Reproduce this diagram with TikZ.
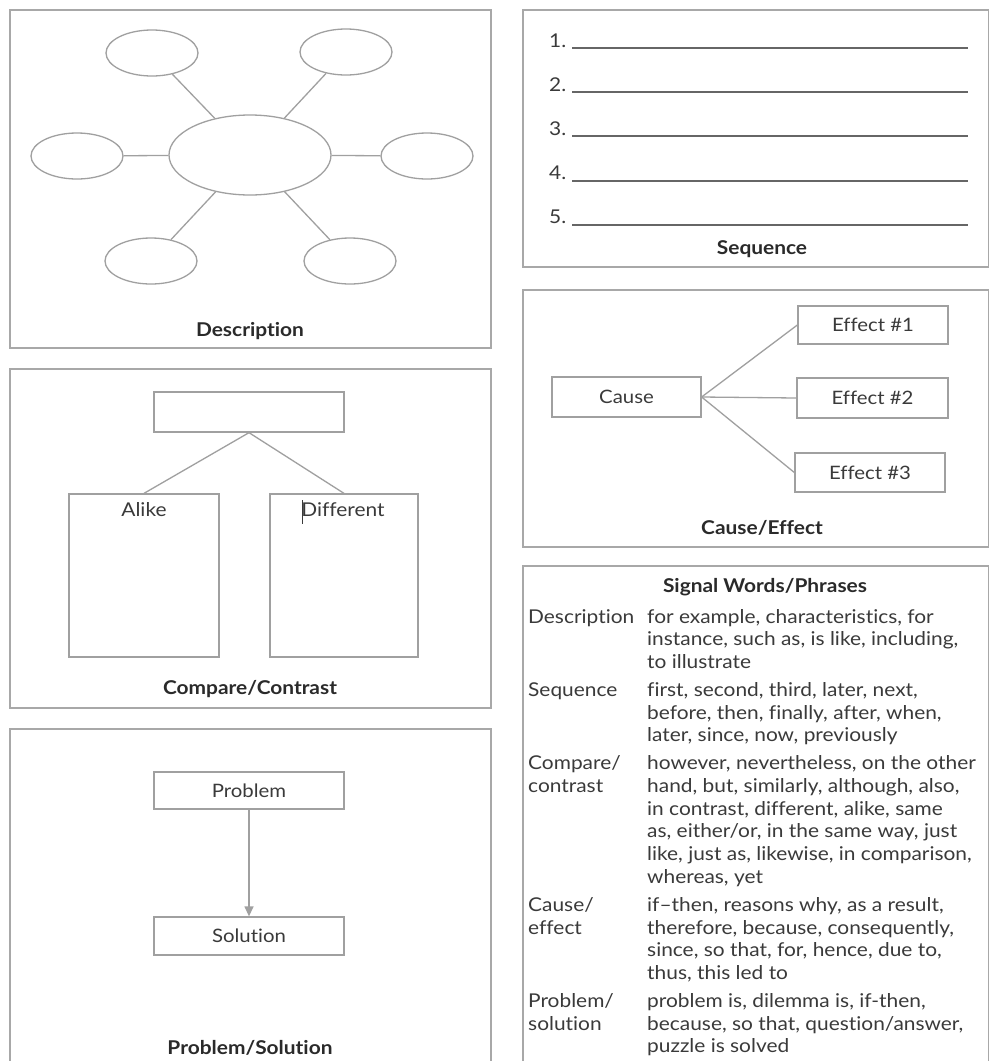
\documentclass[tikz,border=0pt]{standalone}
\usepackage{fontspec}
\setmainfont{Lato}[FakeStretch=1.1, Ligatures={TeX,NoCommon}]
\usetikzlibrary{shapes.geometric,arrows.meta}
\definecolor{frame}{HTML}{A8A8A8}
\definecolor{lineg}{HTML}{A0A0A0}
\definecolor{seqline}{HTML}{666666}
\definecolor{txt}{HTML}{3A3A3A}
\definecolor{cap}{HTML}{2A2A2A}
\tikzset{
  panel/.style={draw=frame, line width=1.5pt},
  oval/.style={draw=lineg, line width=1.3pt, ellipse, inner sep=0pt, minimum width=92pt, minimum height=46pt},
  bigoval/.style={oval, minimum width=162pt, minimum height=80pt},
  conn/.style={draw=lineg, line width=1.3pt},
  box/.style={draw=lineg, line width=1.3pt, rectangle, inner sep=0pt, text=txt, font=\fontsize{18.5}{22}\selectfont},
  captxt/.style={anchor=base, inner sep=0pt, text=cap, font=\fontsize{19}{23}\selectfont\bfseries},
  bodytxt/.style={inner sep=0pt, text=txt, font=\fontsize{19}{22.7}\selectfont},
  seqrule/.style={draw=seqline, line width=2pt}
}
\begin{document}
\begin{tikzpicture}[x=1pt, y=-1pt]
\useasboundingbox (0,0) rectangle (990,1061);
\fill[white] (0,0) rectangle (990,1061);

% ---------- Panels ----------
\draw[panel] (10,10) rectangle (491,348);
\draw[panel] (10,369) rectangle (491,708);
\draw[panel] (10,1061) -- (10,729) -- (491,729) -- (491,1061);
\draw[panel] (523,10) rectangle (988.5,267);
\draw[panel] (523,290) rectangle (988.5,547);
\draw[panel] (523,1061) -- (523,566) -- (988.5,566) -- (988.5,1061);

% ---------- Description ----------
\node[bigoval] (dc) at (250,155) {};
\node[oval] (dtl) at (152,53) {};
\node[oval] (dtr) at (346,52) {};
\node[oval] (dl) at (77,156) {};
\node[oval] (dr) at (427,156) {};
\node[oval] (dbl) at (151,261) {};
\node[oval] (dbr) at (350,261) {};
\foreach \o in {dtl,dtr,dl,dr,dbl,dbr} \draw[conn] (dc) -- (\o);
\node[captxt] (capdesc) at (250,336) {Description};

% ---------- Compare/Contrast ----------
\node[box, minimum width=190pt, minimum height=40pt] (ctop) at (249,412) {};
\node[box, minimum width=150pt, minimum height=163pt] (alike) at (144,575.5) {};
\node[box, minimum width=148pt, minimum height=163pt] (diff) at (344,575.5) {};
\draw[conn] (ctop.south) -- (alike.north);
\draw[conn] (ctop.south) -- (diff.north);
\node[bodytxt, anchor=base] (alikelbl) at (144,516) {Alike};
\node[bodytxt, anchor=base] (difflbl) at (343,516) {Different};
\coordinate (cura) at (302.5,500);
\coordinate (curb) at (302.5,524);
\draw[txt, line width=0.9pt] (cura) -- (curb);
\node[captxt] (capcomp) at (250,694) {Compare/Contrast};

% ---------- Problem/Solution ----------
\node[box, minimum width=190pt, minimum height=37pt] (prob) at (249,790.5) {Problem};
\node[box, minimum width=190pt, minimum height=38pt] (sol) at (249,936) {Solution};
\draw[conn, -{Triangle[width=9pt,length=10pt]}, lineg] (prob.south) -- (sol.north);
\node[captxt] (capprob) at (250,1054) {Problem/Solution};

% ---------- Sequence ----------
\foreach \i/\y in {1/48,2/92.2,3/136.4,4/180.6,5/224.8}{
  \node[bodytxt, anchor=base west] (sn\i) at (549,\y-1) {\i.};
  \coordinate (sa\i) at (572,\y);
  \coordinate (sb\i) at (968,\y);
  \draw[seqrule] (sa\i) -- (sb\i);
}
\node[captxt] (capseq) at (762,254) {Sequence};

% ---------- Cause/Effect ----------
\node[box, minimum width=149pt, minimum height=40pt] (cause) at (626.5,397) {Cause};
\node[box, minimum width=150pt, minimum height=38pt] (eff1) at (873,325) {Effect \#1};
\node[box, minimum width=151pt, minimum height=40pt] (eff2) at (872.5,398) {Effect \#2};
\node[box, minimum width=150pt, minimum height=39pt] (eff3) at (870,472.5) {Effect \#3};
\draw[conn] (cause.east) -- (eff1.west);
\draw[conn] (cause.east) -- (eff2.west);
\draw[conn] (cause.east) -- (eff3.west);
\node[captxt] (capce) at (762,534) {Cause/Effect};

% ---------- Signal Words ----------
\node[captxt] (swhead) at (765,592) {Signal Words/Phrases};
\node[bodytxt, anchor=base west] (swtable) at (528,623) {%
\begin{tabular}[t]{@{}p{119pt}@{}l@{}}
Description & for example, characteristics, for\\
 & instance, such as, is like, including,\\
 & to illustrate\\[5.3pt]
Sequence & first, second, third, later, next,\\
 & before, then, finally, after, when,\\
 & later, since, now, previously\\[5.3pt]
Compare/ & however, nevertheless, on the other\\
contrast & hand, but, similarly, although, also,\\
 & in contrast, different, alike, same\\
 & as, either/or, in the same way, just\\
 & like, just as, likewise, in comparison,\\
 & whereas, yet\\[5.3pt]
Cause/ & if–then, reasons why, as a result,\\
effect & therefore, because, consequently,\\
 & since, so that, for, hence, due to,\\
 & thus, this led to\\[5.3pt]
Problem/ & problem is, dilemma is, if-then,\\
solution & because, so that, question/answer,\\
 & puzzle is solved
\end{tabular}};
\end{tikzpicture}
\end{document}
